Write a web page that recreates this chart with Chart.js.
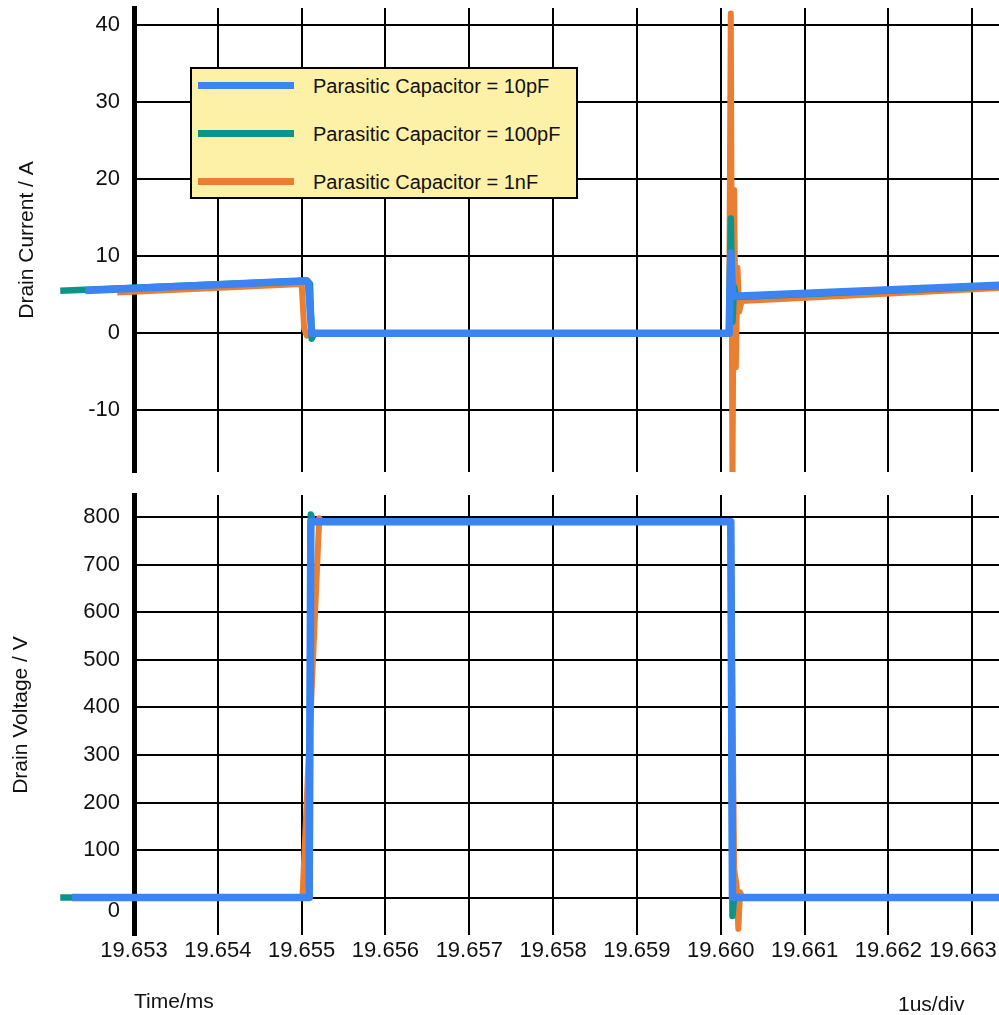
<!DOCTYPE html>
<html>
<head>
<meta charset="utf-8">
<script src="https://cdn.jsdelivr.net/npm/chart.js@4.4.0/dist/chart.umd.min.js"></script>
<style>
  html, body { margin: 0; padding: 0; background: #fff; }
  #wrap { position: relative; width: 999px; height: 1015px; overflow: hidden; font-family: "Liberation Sans", Arial, Helvetica, sans-serif; }
  #graficoCorrente { position: absolute; left: 0; top: 0; }
  #graficoTensao { position: absolute; left: 0; top: 480px; }
  #legenda { position: absolute; left: 190px; top: 67px; width: 388px; height: 132px; box-sizing: border-box; background: #fdf0a7; border: 2px solid #000; }
  .linha { position: absolute; left: 0; height: 24px; width: 380px; }
  .amostra { position: absolute; left: 6px; top: 8px; width: 96px; height: 7px; }
  .texto { position: absolute; left: 121px; top: 0; line-height: 24px; font-size: 20px; color: #111; white-space: nowrap; }
  #escala { position: absolute; left: 898px; top: 992px; font-size: 21px; line-height: 24px; color: #111; }
</style>
</head>
<body>
<div id="wrap">
  <canvas id="graficoCorrente" width="999" height="480"></canvas>
  <canvas id="graficoTensao" width="999" height="535"></canvas>
  <div id="legenda"></div>
  <div id="escala">1us/div</div>
</div>
<script>
const seriesNames = ['Parasitic Capacitor = 10pF', 'Parasitic Capacitor = 100pF', 'Parasitic Capacitor = 1nF'];

// eixo do tempo (ms)
const timeTicks = [19.653, 19.654, 19.655, 19.656, 19.657, 19.658, 19.659, 19.660, 19.661, 19.662, 19.663];
const timeTickLabels = ['19.653', '19.654', '19.655', '19.656', '19.657', '19.658', '19.659', '19.660', '19.661', '19.662', '19.663'];
const currentTicks = [-10, 0, 10, 20, 30, 40];
const voltageTicks = [0, 100, 200, 300, 400, 500, 600, 700, 800];

// corrente de dreno (A)
const iTime10p  = [19.65242, 19.65506, 19.65508, 19.65512, 19.66010, 19.66012, 19.66014, 19.66016, 19.66335];
const iValue10p = [5.55, 6.8, 6.6, 0, 0, 10.4, 5.2, 4.8, 6.25];
const iTime100p  = [19.65212, 19.65506, 19.65510, 19.65512, 19.65515, 19.66010, 19.66012, 19.66014, 19.66016, 19.66018, 19.66335];
const iValue100p = [5.5, 6.8, 6.4, -0.7, 0, 0, 14.9, 1.5, 6.0, 4.7, 6.15];
const iTime1n  = [19.65280, 19.65500, 19.65503, 19.65506, 19.65510, 19.66010, 19.66012, 19.66014, 19.66016, 19.66018, 19.66020, 19.66022, 19.66025, 19.66335];
const iValue1n = [5.3, 6.4, 0.6, -0.3, 0, 0, 41.5, -19, 18.6, -4.4, 8.5, 2.8, 4.2, 5.9];

// tensao de dreno (V)
const vTime10p  = [19.65226, 19.65509, 19.65511, 19.66012, 19.66014, 19.66335];
const vValue10p = [1, 1, 790, 790, 1, 1];
const vTime100p  = [19.65212, 19.65509, 19.65511, 19.65514, 19.66012, 19.66014, 19.66016, 19.66335];
const vValue100p = [1, 1, 805, 790, 790, -38, 1, 1];
const vTime1n  = [19.65280, 19.65501, 19.65521, 19.65524, 19.66012, 19.66016, 19.66019, 19.66021, 19.66023, 19.66026, 19.66335];
const vValue1n = [1, 1, 797, 790, 790, 60, 25, -65, 12, 0, 0];

const cores = ['#3b84f1', '#0b958a', '#ea7e31'];
const larguras = [7.5, 6.5, 6];
const fonte = '"Liberation Sans", Arial, Helvetica, sans-serif';

Chart.defaults.font.family = fonte;
Chart.defaults.color = '#111';

function serie(i, tempos, valores) {
    return {
        label: seriesNames[i],
        data: tempos.map((t, k) => ({ x: t, y: valores[k] })),
        borderColor: cores[i],
        backgroundColor: cores[i],
        borderWidth: larguras[i],
        borderJoinStyle: 'round',
        pointRadius: 0,
        tension: 0,
        clip: { left: 80, top: 0, right: 0, bottom: 0 }
    };
}

function eixoX(mostrarRotulos) {
    return {
        type: 'linear',
        min: 19.653,
        max: 19.66332,
        afterBuildTicks: (s) => { s.ticks = timeTicks.map(v => ({ value: v })); },
        ticks: {
            display: mostrarRotulos,
            maxRotation: 0,
            autoSkip: false,
            padding: 3,
            color: '#111',
            font: { size: 22 },
            callback: (v, i) => i === timeTickLabels.length - 1 ? timeTickLabels[i] + '   ' : timeTickLabels[i]
        },
        grid: { color: '#000', lineWidth: 2, drawTicks: false },
        border: { display: false },
        title: {
            display: mostrarRotulos,
            text: 'Time/ms',
            align: 'start',
            color: '#111',
            font: { size: 21 },
            padding: { top: 0, bottom: 0 }
        },
        afterFit: (s) => {
            s.height = mostrarRotulos ? 80 : 0;
            s.paddingLeft = 0;
            s.paddingRight = 0;
        }
    };
}

function eixoY(min, max, marcas, titulo, recuo, rotulo) {
    return {
        min: min,
        max: max,
        afterBuildTicks: (s) => { s.ticks = marcas.map(v => ({ value: v })); },
        ticks: { padding: 14, autoSkip: false, color: '#111', font: { size: 22 }, callback: rotulo },
        grid: { color: '#000', lineWidth: 2, drawTicks: false },
        border: { color: '#000', width: 5 },
        title: { display: true, text: titulo, color: '#111', font: { size: 21 }, padding: { top: recuo, bottom: 0 } },
        afterFit: (s) => {
            s.width = 134;
            s.paddingTop = 0;
            s.paddingBottom = 0;
        }
    };
}

const opcoesBase = {
    responsive: false,
    animation: false,
    devicePixelRatio: 1,
    plugins: { legend: { display: false }, tooltip: { enabled: false } }
};

const graficoCorrente = new Chart(document.getElementById('graficoCorrente'), {
    type: 'line',
    data: {
        datasets: [
            serie(0, iTime10p, iValue10p),
            serie(1, iTime100p, iValue100p),
            serie(2, iTime1n, iValue1n)
        ]
    },
    options: Object.assign({}, opcoesBase, {
        layout: { padding: { top: 8, bottom: 8, left: 0, right: 0 } },
        scales: {
            x: eixoX(false),
            y: eixoY(-18, 42.2, currentTicks, 'Drain Current / A', 15, (v) => String(v))
        }
    })
});

const graficoTensao = new Chart(document.getElementById('graficoTensao'), {
    type: 'line',
    data: {
        datasets: [
            serie(0, vTime10p, vValue10p),
            serie(1, vTime100p, vValue100p),
            serie(2, vTime1n, vValue1n)
        ]
    },
    options: Object.assign({}, opcoesBase, {
        layout: { padding: { top: 15, bottom: 0, left: 0, right: 0 } },
        scales: {
            x: eixoX(true),
            y: eixoY(-78, 846, voltageTicks, 'Drain Voltage / V', 9, (v) => v === 0 ? ['', '0'] : String(v))
        }
    })
});

// legenda desenhada por cima do grafico de corrente
const legenda = document.getElementById('legenda');
seriesNames.forEach((nome, i) => {
    const linha = document.createElement('div');
    linha.className = 'linha';
    linha.style.top = (17 + 48 * i - 12) + 'px';
    const amostra = document.createElement('div');
    amostra.className = 'amostra';
    amostra.style.background = cores[i];
    const texto = document.createElement('div');
    texto.className = 'texto';
    texto.textContent = nome;
    linha.appendChild(amostra);
    linha.appendChild(texto);
    legenda.appendChild(linha);
});
</script>
</body>
</html>
